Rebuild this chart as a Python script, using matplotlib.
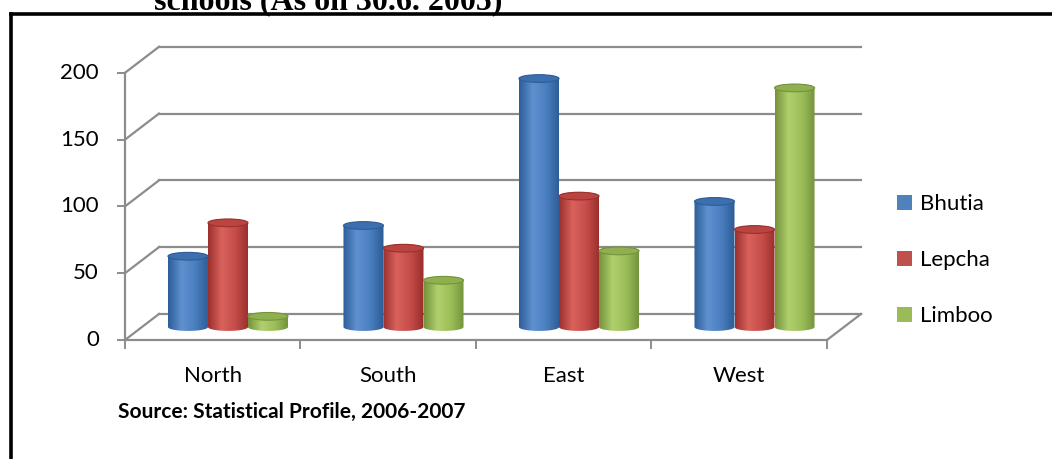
import numpy as np
import matplotlib
matplotlib.use("Agg")
import matplotlib.pyplot as plt
from matplotlib.colors import LinearSegmentedColormap
from matplotlib.patches import PathPatch, Ellipse, Patch
from matplotlib.path import Path
from matplotlib.lines import Line2D

# data
regions = ["North", "South", "East", "West"]
series = ["Bhutia", "Lepcha", "Limboo"]
bhutia = [53, 76, 186, 94]
lepcha = [78, 59, 98, 73]
limboo = [8, 35, 57, 179]
yticks = [0, 50, 100, 150, 200]
title = "schools (As on 30.6. 2005)"
source = "Source: Statistical Profile, 2006-2007"

# colour ramps for the cylinders (dark edge, highlight, mid, dark edge)
base_cols = ["#4F81BD", "#C0504D", "#9BBB59"]
ramps = [
    ["#2d5e9a", "#5f91d0", "#4a7fc0", "#2d5c96"],
    ["#9c302d", "#d9625d", "#c64d49", "#982e2b"],
    ["#76933c", "#b0d06e", "#9bbe58", "#72913b"],
]
cap_cols = ["#3d6fae", "#b94440", "#8fb04e"]

# 3d look: offset of back wall and of bar plane, in data units
DXB, DYB = 0.194, 19.5
DXM, DYM = 0.087, 9.7
W = 0.228          # bar width / spacing
RY = 2.9           # half height of the cylinder ellipses
GRID = "#8c8c8c"

fig = plt.figure(figsize=(10.52, 4.59), dpi=100)
ax = fig.add_axes([0, 0, 1, 1])
ax.axis("off")

# walls and gridlines
for v in yticks:
    ax.plot([DXB, len(regions) + DXB], [v + DYB, v + DYB], color=GRID, lw=1.6, zorder=1)
    ax.plot([0, DXB], [v, v + DYB], color=GRID, lw=1.6, zorder=1)
    ax.plot([-0.04, 0], [v, v], color=GRID, lw=1.4, zorder=1)
    ax.text(-0.148, v, str(v), ha="right", va="center", fontsize=16, family="Lato")
ax.plot([0, 0], [0, yticks[-1]], color=GRID, lw=1.6, zorder=1)
ax.plot([0, len(regions)], [0, 0], color=GRID, lw=1.6, zorder=1)
ax.plot([len(regions), len(regions) + DXB], [0, DYB], color=GRID, lw=1.6, zorder=1)
for i in range(len(regions) + 1):
    ax.plot([i, i], [0, -6], color=GRID, lw=1.4, zorder=1)
for i, r in enumerate(regions):
    ax.text(i + 0.5, -27, r, ha="center", va="center", fontsize=16, family="Lato")


def cylinder(xc, val, k):
    rx = W / 2
    bot = DYM
    top = DYM + val
    t = np.linspace(np.pi, 2 * np.pi, 40)
    xs = list(xc + rx * np.cos(t))
    ys = list(bot + RY * np.sin(t))
    t2 = np.linspace(0, np.pi, 40)
    xs += list(xc + rx * np.cos(t2))
    ys += list(top + RY * np.sin(t2))
    verts = list(zip(xs, ys)) + [(xs[0], ys[0])]
    outline = PathPatch(Path(verts, closed=True), transform=ax.transData,
                        facecolor="none", edgecolor="none")
    ax.add_patch(outline)
    cmap = LinearSegmentedColormap.from_list("c", ramps[k])
    grad = np.linspace(0, 1, 64).reshape(1, -1)
    im = ax.imshow(grad, cmap=cmap, aspect="auto", interpolation="bicubic",
                   extent=[xc - rx, xc + rx, bot - RY, top + RY], zorder=3)
    im.set_clip_path(outline)
    ax.add_patch(Ellipse((xc, top), 2 * rx, 2 * RY, facecolor=cap_cols[k],
                         edgecolor=ramps[k][0], lw=0.8, zorder=4))


for k, vals in enumerate([bhutia, lepcha, limboo]):
    for i, v in enumerate(vals):
        cylinder(i + 0.5 + DXM + (k - 1) * W, v, k)

# map whole figure onto the data space
ax.set_xlim(-0.712, 5.282)
ax.set_ylim(-89.07, 254.5)

# legend
handles = [Patch(facecolor=c, edgecolor="none") for c in base_cols]
fig.legend(handles, series, loc="upper left", bbox_to_anchor=(897 / 1052, 1 - 194 / 459),
           frameon=False, prop={"family": "Lato", "size": 16}, handlelength=0.68,
           handleheight=0.68, handletextpad=0.35, labelspacing=1.62,
           borderpad=0, borderaxespad=0)

# source note and cut-off title
ax.text(-0.04, -53.5, source, ha="left", va="center", fontsize=15,
        family="Lato", fontweight="bold")
fig.text(328 / 1052, 1 - 9 / 459, title, ha="center", va="baseline",
         fontsize=23, family="Liberation Serif", fontweight="bold")

# frame around the chart
fig.add_artist(Line2D([10.5 / 1052, 10.5 / 1052], [0, 1 - 14 / 459], color="black",
                      lw=2.6, transform=fig.transFigure))
fig.add_artist(Line2D([10.5 / 1052, 1], [1 - 14 / 459, 1 - 14 / 459], color="black",
                      lw=2.6, transform=fig.transFigure))

fig.savefig("out.png", dpi=100)
